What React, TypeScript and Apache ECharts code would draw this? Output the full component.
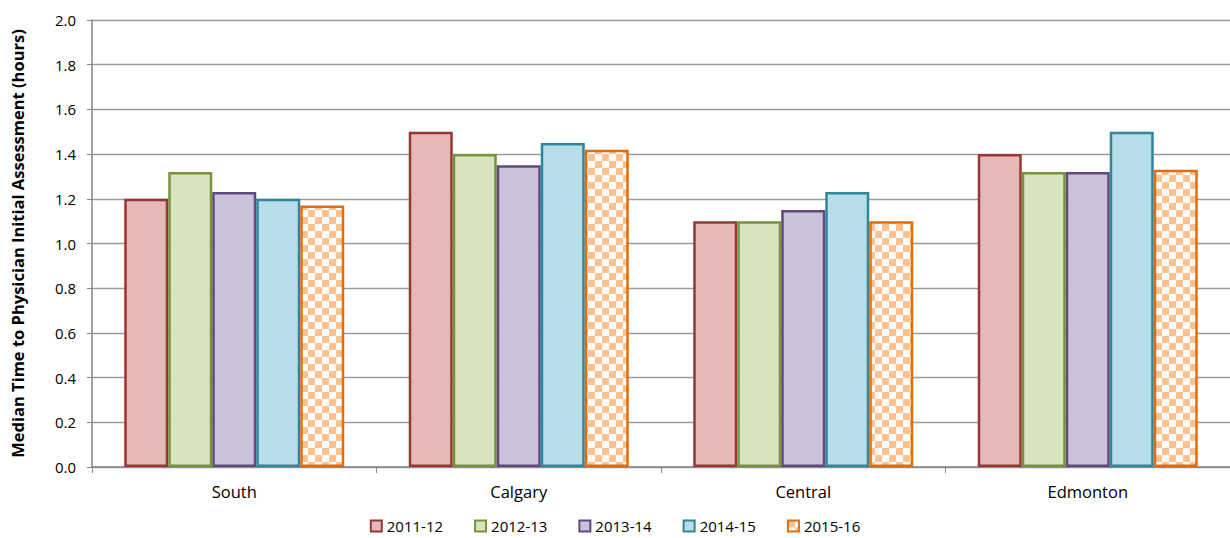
import React, { useEffect, useRef } from "react";
import * as echarts from "echarts";

const categories = ["South", "Calgary", "Central", "Edmonton"];
const seriesNames = ["2011-12", "2012-13", "2013-14", "2014-15", "2015-16"];
const v2011 = [1.2, 1.5, 1.1, 1.4];
const v2012 = [1.32, 1.4, 1.1, 1.32];
const v2013 = [1.23, 1.35, 1.15, 1.32];
const v2014 = [1.2, 1.45, 1.23, 1.5];
const v2015 = [1.17, 1.42, 1.1, 1.33];
const seriesValues = [v2011, v2012, v2013, v2014, v2015];
const fills = ["#E6B9B8", "#D7E4BD", "#CCC1DA", "#B7DEE8", "checker"];
const borders = ["#953735", "#77933C", "#604A7B", "#31859C", "#E46C0A"];
const yTicks = { min: 0, max: 2, interval: 0.2 };

const FONT = "'Open Sans', Lato, sans-serif";

function makeChecker() {
  const c = document.createElement("canvas");
  const s = 7;
  c.width = s * 2;
  c.height = s * 2;
  const ctx = c.getContext("2d")!;
  ctx.fillStyle = "#FFFFFF";
  ctx.fillRect(0, 0, s * 2, s * 2);
  ctx.fillStyle = "#FDC290";
  ctx.fillRect(0, 0, s, s);
  ctx.fillRect(s, s, s, s);
  return c;
}

export default function App() {
  const ref = useRef<HTMLDivElement>(null);
  useEffect(() => {
    if (!ref.current) return;
    const chart = echarts.init(ref.current, null, { renderer: "svg" });
    const checker = makeChecker();
    const series = seriesNames.map((name, i) => ({
      name,
      type: "bar",
      data: seriesValues[i],
      barWidth: 44,
      barGap: "0%",
      itemStyle: {
        color:
          fills[i] === "checker"
            ? { image: checker, repeat: "repeat" }
            : fills[i],
        borderColor: borders[i],
        borderWidth: 2.5,
      },
    }));
    chart.setOption({
      animation: false,
      textStyle: { fontFamily: FONT },
      grid: { left: 92, right: 0, top: 20, bottom: 71 },
      legend: {
        top: 516,
        left: "center",
        itemWidth: 11,
        itemHeight: 11,
        itemGap: 31,
        padding: [1, 5, 1, 5],
        icon: "rect",
        textStyle: { fontSize: 15, color: "#000", fontFamily: FONT, lineHeight: 18 },
        data: seriesNames,
      },
      xAxis: {
        type: "category",
        data: categories,
        axisLine: { lineStyle: { color: "#868686", width: 1.5 } },
        axisTick: { show: true, length: 6, lineStyle: { color: "#868686" } },
        axisLabel: { fontSize: 16.5, color: "#000", margin: 16, fontFamily: FONT },
      },
      yAxis: {
        type: "value",
        min: yTicks.min,
        max: yTicks.max,
        interval: yTicks.interval,
        name: "Median Time to Physician Initial Assessment (hours)",
        nameLocation: "middle",
        nameGap: 66,
        nameTextStyle: { fontSize: 16.5, fontWeight: "bold", color: "#000", fontFamily: FONT },
        axisLine: { show: true, lineStyle: { color: "#868686", width: 1.5 } },
        axisTick: { show: true, length: 5, lineStyle: { color: "#868686" } },
        axisLabel: {
          fontSize: 15,
          color: "#000",
          margin: 16,
          fontFamily: FONT,
          formatter: (v: number) => v.toFixed(1),
        },
        splitLine: { lineStyle: { color: "#9C9C9C", width: 1.3 } },
      },
      series,
    });
    return () => chart.dispose();
  }, []);
  return (
    <div
      ref={ref}
      style={{ position: "absolute", left: 0, top: 0, width: 1230, height: 538, background: "#fff" }}
    />
  );
}
